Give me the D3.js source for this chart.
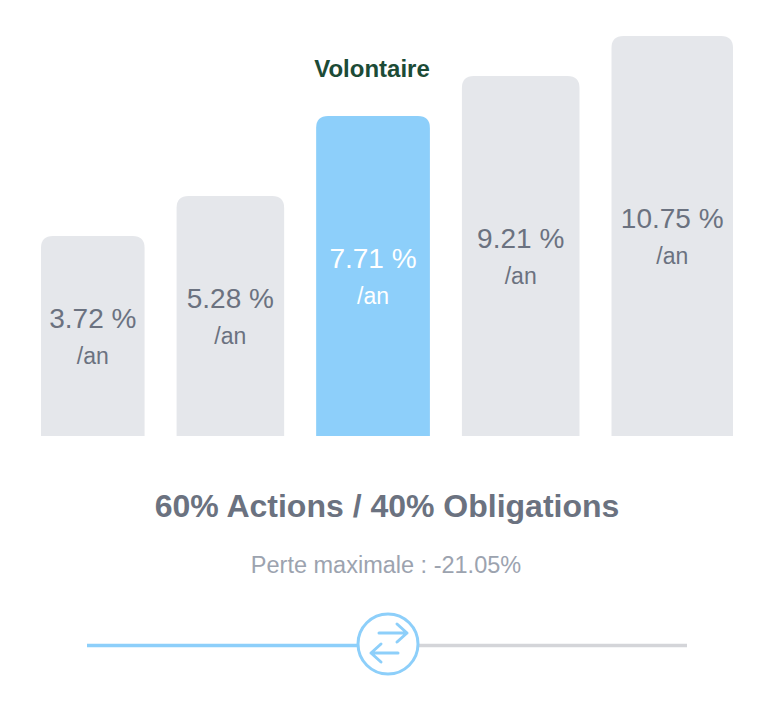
<!DOCTYPE html>
<html>
<head>
<meta charset="utf-8">
<script src="https://cdn.jsdelivr.net/npm/d3@7"></script>
<style>
  html, body { margin: 0; padding: 0; background: #ffffff; }
  svg { display: block; font-family: "Liberation Sans", Arial, Helvetica, sans-serif; }
</style>
</head>
<body>
<svg id="chart" width="772" height="702"></svg>
<script>
// ---- data ----
const profiles = ["Prudent", "Équilibré", "Volontaire", "Dynamique", "Offensif"];
const annualReturns = [3.72, 5.28, 7.71, 9.21, 10.75];
const riskScores = [5, 6, 8, 9, 10];           // relative risk level (out of 10)
const selectedProfile = "Volontaire";
const allocationLabel = "60% Actions / 40% Obligations";
const maxLossLabel = "Perte maximale : -21.05%";
const sliderPosition = 0.5;                    // position of slider handle (0..1)

// ---- layout ----
const svg = d3.select("#chart");
const baseY = 436;
const left = 41, right = 733, gap = 32;

const h = d3.scaleLinear().domain([0, 10]).range([0, 400]);
const wRaw = d3.scaleLinear().domain(d3.extent(annualReturns)).range([104, 122]);
const rawW = annualReturns.map(v => wRaw(v));
const k = (right - left - gap * (profiles.length - 1)) / d3.sum(rawW);
const widths = rawW.map(w => w * k);
const xs = [];
let cx = left;
widths.forEach(w => { xs.push(cx); cx += w + gap; });

const data = profiles.map((p, i) => ({
  name: p, value: annualReturns[i], risk: riskScores[i],
  x: xs[i], w: widths[i], selected: p === selectedProfile
}));

function topRounded(x, y, w, ht, r) {
  return `M${x},${y + ht} L${x},${y + r} Q${x},${y} ${x + r},${y} L${x + w - r},${y} Q${x + w},${y} ${x + w},${y + r} L${x + w},${y + ht} Z`;
}

const g = svg.append("g");
const bars = g.selectAll("g.bar").data(data).join("g").attr("class", "bar");

bars.append("path")
  .attr("d", d => topRounded(d.x, baseY - h(d.risk), d.w, h(d.risk), 12))
  .attr("fill", d => d.selected ? "#8dcffa" : "#e5e7eb");

bars.append("text")
  .attr("x", d => d.x + d.w / 2)
  .attr("y", d => baseY - h(d.risk) / 2 - 8)
  .attr("text-anchor", "middle")
  .attr("font-size", 28)
  .attr("fill", d => d.selected ? "#ffffff" : "#6b7280")
  .text(d => d.value.toFixed(2) + " %");

bars.append("text")
  .attr("x", d => d.x + d.w / 2)
  .attr("y", d => baseY - h(d.risk) / 2 + 28)
  .attr("text-anchor", "middle")
  .attr("font-size", 23)
  .attr("fill", d => d.selected ? "#ffffff" : "#6b7280")
  .text("/an");

bars.filter(d => d.selected).append("text")
  .attr("x", d => d.x + d.w / 2 - 1)
  .attr("y", d => baseY - h(d.risk) - 39)
  .attr("text-anchor", "middle")
  .attr("font-size", 24)
  .attr("font-weight", "bold")
  .attr("fill", "#1c4b36")
  .text(d => d.name);

// ---- labels ----
svg.append("text")
  .attr("x", 387).attr("y", 517)
  .attr("text-anchor", "middle")
  .attr("font-size", 32)
  .attr("font-weight", "bold")
  .attr("fill", "#6b7280")
  .text(allocationLabel);

svg.append("text")
  .attr("x", 386).attr("y", 573)
  .attr("text-anchor", "middle")
  .attr("font-size", 23.5)
  .attr("fill", "#9ca3af")
  .text(maxLossLabel);

// ---- slider ----
const sx = d3.scaleLinear().domain([0, 1]).range([87, 687]);
const sy = 645.5, handleX = sx(sliderPosition) + 1, R = 30;
svg.append("line").attr("x1", sx(0)).attr("x2", handleX).attr("y1", sy).attr("y2", sy)
  .attr("stroke", "#8dcffa").attr("stroke-width", 3.5);
svg.append("line").attr("x1", handleX).attr("x2", sx(1)).attr("y1", sy).attr("y2", sy)
  .attr("stroke", "#d4d5d9").attr("stroke-width", 3.5);
svg.append("circle").attr("cx", handleX).attr("cy", 644).attr("r", R)
  .attr("fill", "#ffffff").attr("stroke", "#8dcffa").attr("stroke-width", 3);
const ic = svg.append("g").attr("transform", `translate(${handleX},644)`)
  .attr("fill", "none").attr("stroke", "#8dcffa").attr("stroke-width", 3)
  .attr("stroke-linecap", "round").attr("stroke-linejoin", "round");
ic.append("path").attr("d", "M-9,-11 L19,-11 M9,-20 L19,-11 L9,-2");
ic.append("path").attr("d", "M10,9 L-17,9 M-7,0 L-17,9 L-7,18");
</script>
</body>
</html>
